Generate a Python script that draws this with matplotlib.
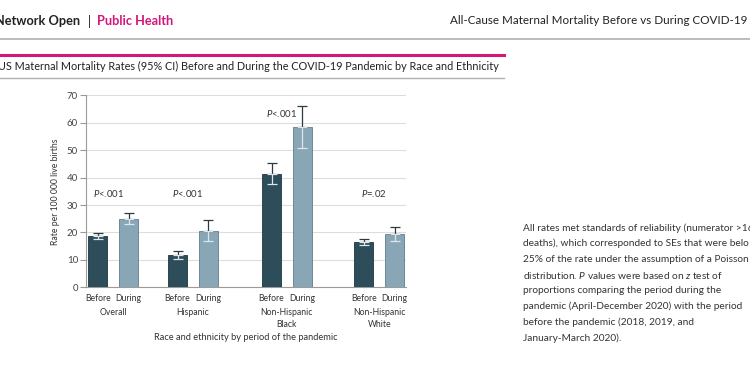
import matplotlib.pyplot as plt
import numpy as np

FONT = 'Lato'
plt.rcParams['font.family'] = [FONT, 'DejaVu Sans']
plt.rcParams['mathtext.fontset'] = 'custom'
plt.rcParams['mathtext.it'] = FONT + ':italic'
plt.rcParams['mathtext.rm'] = FONT

# data
groups = ['Overall', 'Hispanic', 'Non-Hispanic\nBlack', 'Non-Hispanic\nWhite']
periods = ['Before', 'During']
before_rate = [18.8, 11.9, 41.3, 16.5]
before_lo = [17.6, 10.4, 37.7, 15.5]
before_hi = [19.8, 13.4, 45.2, 17.7]
during_rate = [25.0, 20.6, 58.4, 19.5]
during_lo = [23.1, 16.9, 50.7, 17.0]
during_hi = [27.0, 24.4, 66.2, 21.9]
p_labels = ['<.001', '<.001', '<.001', '=.02']
p_heights = [34.3, 34.3, 63.4, 34.3]

note_lines = [
    'All rates met standards of reliability (numerator >16',
    'deaths), which corresponded to SEs that were belo',
    '25% of the rate under the assumption of a Poisson',
    r'distribution. $\it{P}$ values were based on $\it{z}$ test of',
    'proportions comparing the period during the',
    'pandemic (April-December 2020) with the period',
    'before the pandemic (2018, 2019, and',
    'January-March 2020).',
]

c_before = '#2c4d59'
c_during = '#88a6b6'
magenta = '#d2167a'
txt = '#333333'
W, H = 750, 375

fig = plt.figure(figsize=(7.5, 3.75), dpi=100)

def px(x, y):
    return x / W, 1 - y / H

# header
fig.text(*px(80, 21), 'Network Open', fontsize=9.2, fontweight='bold', color='#222222', va='center', ha='right')
fig.text(*px(89, 21), '|', fontsize=9.2, color='#222222', va='center', ha='center')
fig.text(*px(97, 21), 'Public Health', fontsize=9.2, fontweight='bold', color=magenta, va='center')
fig.text(*px(450, 21), 'All-Cause Maternal Mortality Before vs During COVID-19 Pande',
         fontsize=8.35, color='#222222', va='center')
fig.add_artist(plt.Line2D([0, 1], [1 - 39 / H] * 2, color='#b0b0b0', lw=1.2))
fig.add_artist(plt.Line2D([0, 504 / W], [1 - 55 / H] * 2, color=magenta, lw=2.2))
fig.text(*px(-2, 66), 'US Maternal Mortality Rates (95% CI) Before and During the COVID-19 Pandemic by Race and Ethnicity',
         fontsize=7.8, color='#222222', va='center')
fig.add_artist(plt.Line2D([0, 504 / W], [1 - 78 / H] * 2, color='#b0b0b0', lw=1.0))

# chart
ax = fig.add_axes([85.7 / W, 1 - 287.3 / H, 320.3 / W, 192 / H])
group_x = np.array([27.5, 107.2, 201.2, 293.5])
off = 15.4
bw = 19
xb = group_x - off
xd = group_x + off

ax.bar(xb, before_rate, bw, color=c_before, edgecolor='#1e3740', lw=0.6, zorder=3)
ax.bar(xd, during_rate, bw, color=c_during, edgecolor='#5f7e8e', lw=0.6, zorder=3)

# CI whiskers: dark above the bar top, light inside the bar
for xs, rate, lo, hi in [(xb, before_rate, before_lo, before_hi), (xd, during_rate, during_lo, during_hi)]:
    rate = np.array(rate)
    lo = np.array(lo)
    hi = np.array(hi)
    ax.errorbar(xs, rate, yerr=[np.zeros_like(rate), hi - rate], fmt='none', ecolor='#2a3a40',
                elinewidth=0.9, capsize=3.5, capthick=0.9, zorder=4)
    ax.errorbar(xs, rate, yerr=[rate - lo, np.zeros_like(rate)], fmt='none', ecolor='#dfe6ea',
                elinewidth=0.9, capsize=3.5, capthick=0.9, zorder=4)

for x, lab, h in zip(group_x, p_labels, p_heights):
    ax.text(x - 5, h, r'$\it{P}$' + lab, ha='center', va='center', fontsize=6.9, color=txt)

ax.set_xlim(0, 320.3)
ax.set_ylim(0, 70)
ax.set_yticks(range(0, 71, 10))
ax.yaxis.grid(True, color='#dddddd', lw=0.8, zorder=0)
ax.set_axisbelow(True)
for s in ['top', 'right']:
    ax.spines[s].set_visible(False)
for s in ['left', 'bottom']:
    ax.spines[s].set_color('#9a9a9a')
    ax.spines[s].set_linewidth(0.8)
ax.tick_params(axis='y', length=4, width=0.8, color='#9a9a9a', labelsize=7, labelcolor='#444444', pad=1.5)
ax.set_xticks(np.concatenate([xb, xd]))
ax.set_xticklabels(periods[:1] * 4 + periods[1:] * 4)
ax.tick_params(axis='x', length=0, labelsize=6.2, labelcolor=txt, pad=5)

for x, g in zip(group_x, groups):
    ax.text(x, -7.6, g, ha='center', va='top', fontsize=6.2, color=txt, linespacing=1.35)
ax.set_ylabel('Rate per 100 000 live births', fontsize=6.2, color=txt, labelpad=5)
fig.text(*px(246, 338), 'Race and ethnicity by period of the pandemic', fontsize=6.7,
         color=txt, ha='center', va='center')

# note on the right
for i, line in enumerate(note_lines):
    fig.text(*px(523, 228 + i * 15.7), line, fontsize=7.3, color=txt, va='center')

fig.savefig('out.png', dpi=100)
